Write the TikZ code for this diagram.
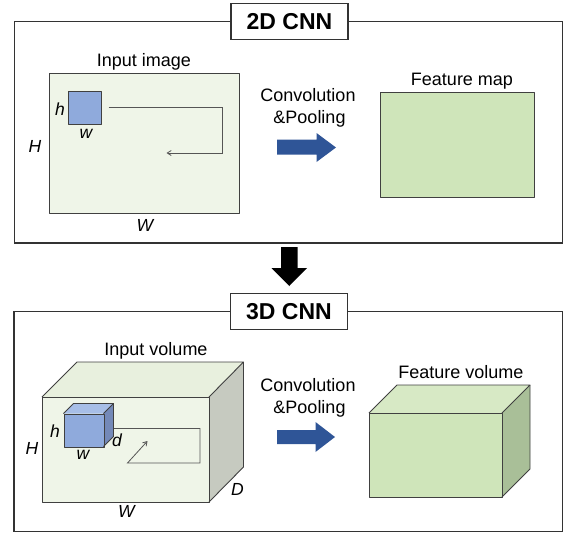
\documentclass[tikz,border=0pt]{standalone}
\usepackage{fontspec}
\setmainfont{Liberation Sans}
\usetikzlibrary{arrows.meta}

\definecolor{framecol}{HTML}{333333}
\definecolor{edgecol}{HTML}{404040}
\definecolor{imgfill}{HTML}{EFF5E8}
\definecolor{imgtop}{HTML}{E8F0DE}
\definecolor{imgside}{HTML}{C6CAC0}
\definecolor{featfill}{HTML}{CFE5BA}
\definecolor{feattop}{HTML}{D7E9C5}
\definecolor{featside}{HTML}{A9BF98}
\definecolor{kernfront}{HTML}{8FAADC}
\definecolor{kerntop}{HTML}{A7BEE7}
\definecolor{kernside}{HTML}{7489B8}
\definecolor{bluearrow}{HTML}{2F5597}
\definecolor{scancol}{HTML}{555555}

\tikzset{
  frame/.style={draw=framecol, line width=1.4pt},
  titlebox/.style={draw=framecol, line width=1.4pt, fill=white, inner sep=0pt,
    minimum width=117pt, minimum height=36pt, font=\fontsize{23}{26}\selectfont\bfseries},
  face/.style={draw=edgecol, line width=0.9pt, line join=round},
  lbl/.style={font=\fontsize{18}{21}\selectfont, anchor=base, inner sep=0pt},
  dim/.style={font=\fontsize{17.5}{20}\selectfont\itshape, anchor=base, inner sep=0pt},
  scan/.style={draw=scancol, line width=0.8pt},
  scantip/.style={-{Straight Barb[length=4pt,width=5pt]}},
  blockarrow/.style={fill=bluearrow, draw=none},
}

\begin{document}
\begin{tikzpicture}[x=1pt,y=-1pt]
\useasboundingbox (0,0) rectangle (563,533);

% ---------- 2D CNN panel ----------
\draw[frame] (14.5,21.5) rectangle (562.8,243);
\node[titlebox] (t2d) at (289.5,21.5) {2D CNN};

% input image with kernel
\node[face, fill=imgfill, minimum width=190pt, minimum height=139.5pt, inner sep=0pt,
      anchor=north west] (img) at (49,73) {};
\node[face, fill=kernfront, minimum width=32.5pt, minimum height=32.5pt, inner sep=0pt,
      anchor=north west] (k2) at (68,91) {};
\node[lbl] (limg) at (144,66.5) {Input image};
\node[dim] (lh2) at (60,115) {h};
\node[dim] (lw2) at (86,138) {w};
\node[dim] (lH2) at (35,152.5) {H};
\node[dim] (lW2) at (145,231) {W};

% scanning path of the kernel
\coordinate (s2a) at (108.5,107.5);
\coordinate (s2b) at (222,107.5);
\coordinate (s2c) at (222,153);
\coordinate (s2d) at (166.5,153);
\draw[scan, scantip] (s2a) -- (s2b) -- (s2c) -- (s2d);

% operation label and arrow
\node[lbl] (conv2) at (308,101.5) {Convolution};
\node[lbl] (pool2) at (309.5,123) {\&Pooling};
\fill[blockarrow] (277,139.5) -- (316.5,139.5) -- (316.5,133) -- (336,147.5)
  -- (316.5,162) -- (316.5,154.5) -- (277,154.5) -- cycle;

% feature map
\node[face, fill=featfill, minimum width=154pt, minimum height=105pt, inner sep=0pt,
      anchor=north west] (fmap) at (380,92) {};
\node[lbl] (lfmap) at (462,85.5) {Feature map};

% ---------- transition arrow ----------
\fill[black] (281,247) -- (297.5,247) -- (297.5,268) -- (307,268) -- (289.25,286)
  -- (271.5,268) -- (281,268) -- cycle;

% ---------- 3D CNN panel ----------
\draw[frame] (14,311.5) rectangle (562.8,531.5);
\node[titlebox] (t3d) at (289,311.5) {3D CNN};

% input volume
\fill[imgtop] (42,397) -- (77,362) -- (243.5,362) -- (209,397) -- cycle;
\fill[imgside] (209,397) -- (243.5,362) -- (243.5,467) -- (209,502) -- cycle;
\node[face, fill=imgfill, minimum width=167pt, minimum height=105pt, inner sep=0pt,
      anchor=north west] (vol) at (42,397) {};
\draw[face] (42,397) -- (77,362) -- (243.5,362) -- (209,397);
\draw[face] (243.5,362) -- (243.5,467) -- (209,502);
\node[lbl] (lvol) at (156,355) {Input volume};

% scanning path of the 3D kernel
\coordinate (s3a) at (113.5,428.5);
\coordinate (s3b) at (200,428.5);
\coordinate (s3c) at (200,463);
\coordinate (s3d) at (127.5,463);
\coordinate (s3e) at (147.5,441);
\draw[scan, scantip] (s3a) -- (s3b) -- (s3c) -- (s3d) -- (s3e);

% 3D kernel cube
\fill[kerntop] (63.5,413.5) -- (73.5,403.5) -- (113.5,403.5) -- (103.5,413.5) -- cycle;
\fill[kernside] (103.5,413.5) -- (113.5,403.5) -- (113.5,436.5) -- (103.5,446.5) -- cycle;
\node[face, fill=kernfront, minimum width=40pt, minimum height=33pt, inner sep=0pt,
      anchor=north west] (k3) at (63.5,413.5) {};
\draw[face] (63.5,413.5) -- (73.5,403.5) -- (113.5,403.5) -- (103.5,413.5);
\draw[face] (113.5,403.5) -- (113.5,436.5) -- (103.5,446.5);

\node[dim] (lh3) at (55,437) {h};
\node[dim] (ld3) at (117,446) {d};
\node[dim] (lw3) at (83,459) {w};
\node[dim] (lH3) at (32,454.5) {H};
\node[dim] (lW3) at (126.5,517) {W};
\node[dim] (lD3) at (237.5,495.5) {D};

% operation label and arrow
\node[lbl] (conv3) at (308,391) {Convolution};
\node[lbl] (pool3) at (309.5,413) {\&Pooling};
\fill[blockarrow] (277,430) -- (315.5,430) -- (315.5,422) -- (335,437)
  -- (315.5,452) -- (315.5,444) -- (277,444) -- cycle;

% feature volume
\fill[feattop] (369,413) -- (397,385) -- (530,385) -- (502,413) -- cycle;
\fill[featside] (502,413) -- (530,385) -- (530,469) -- (502,497) -- cycle;
\node[face, fill=featfill, minimum width=133pt, minimum height=84pt, inner sep=0pt,
      anchor=north west] (fvol) at (369,413) {};
\draw[face] (369,413) -- (397,385) -- (530,385) -- (502,413);
\draw[face] (530,385) -- (530,469) -- (502,497);
\node[lbl] (lfvol) at (461,378) {Feature volume};

\end{tikzpicture}
\end{document}
